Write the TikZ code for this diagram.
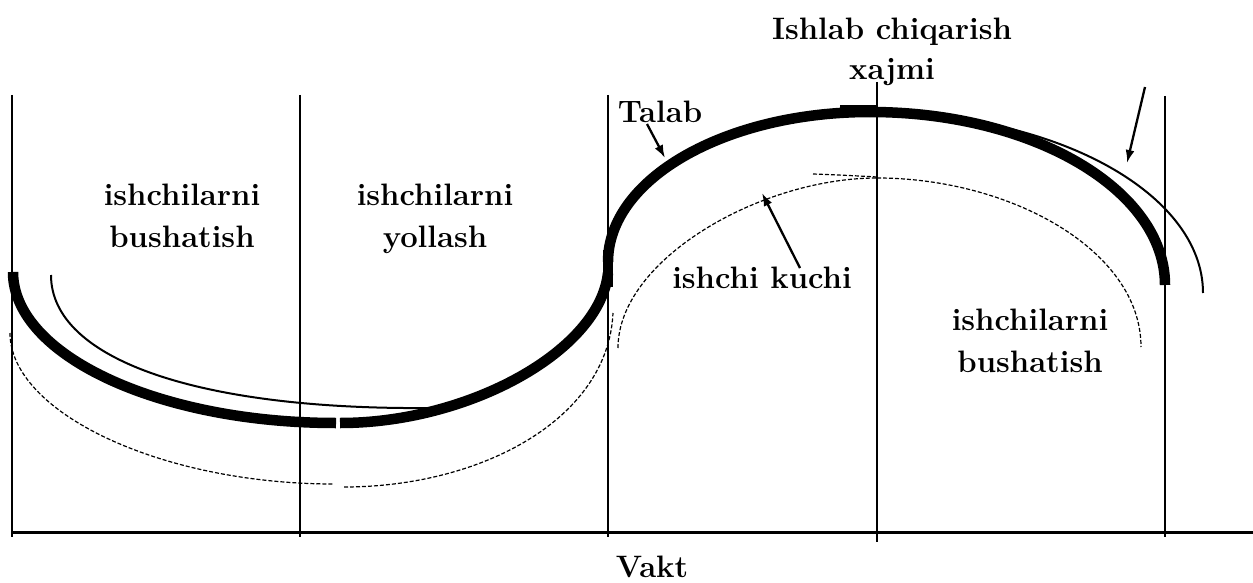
\documentclass[tikz,border=0pt]{standalone}
\usetikzlibrary{arrows.meta}
\begin{document}
\begin{tikzpicture}[x=1pt,y=-1pt,
  vline/.style={line width=2.4pt},
  axisline/.style={line width=3pt},
  talab/.style={line width=10.5pt},
  thinc/.style={line width=2pt},
  dashc/.style={line width=1.2pt, dash pattern=on 4pt off 2pt},
  pointer/.style={line width=2.3pt, -{Latex[length=13pt,width=9pt]}},
  lab/.style={font=\fontsize{31}{42}\selectfont\bfseries, inner sep=0pt, anchor=base},
  labn/.style={font=\fontsize{31}{40}\selectfont\bfseries, inner sep=0pt, anchor=base}]
\useasboundingbox (0,0) rectangle (1253,583);

% vertical lines and axis
\coordinate (v1t) at (12,95);   \coordinate (v1b) at (12,537);
\coordinate (v2t) at (300,95);  \coordinate (v2b) at (300,537);
\coordinate (v3t) at (608,95);  \coordinate (v3b) at (608,537);
\coordinate (v4t) at (877,82);  \coordinate (v4b) at (877,542);
\coordinate (v5t) at (1165,96); \coordinate (v5b) at (1165,537);
\coordinate (ax0) at (12,532);  \coordinate (ax1) at (1253,532);
\draw[vline] (v1t) -- (v1b);
\draw[vline] (v2t) -- (v2b);
\draw[vline] (v3t) -- (v3b);
\draw[vline] (v4t) -- (v4b);
\draw[vline] (v5t) -- (v5b);
\draw[axisline] (ax0) -- (ax1);

% thick demand curve (Talab)
\draw[talab] (13,272) .. controls (13,355) and (158,423) .. (336,423);
\draw[talab] (340,423) .. controls (470,423) and (600,350) .. (608,273);
\draw[talab] (608,250) -- (608,287);
\draw[talab] (608,262) .. controls (608,179) and (725,112) .. (870,112);
\draw[talab] (870,112) .. controls (1033,112) and (1165,190) .. (1165,285);
\draw[talab] (840,110) -- (877,110);

% thin solid curves
\draw[thinc] (51,275) .. controls (51,360) and (200,410) .. (430,408);
\draw[thinc] (877,113) .. controls (1057,113) and (1203,194) .. (1203,293);

% dashed curves
\draw[dashc] (10,333) .. controls (10,412) and (160,484) .. (334,484);
\draw[dashc] (344,487) .. controls (480,487) and (608,420) .. (613,313);
\draw[dashc] (618,348) .. controls (618,260) and (760,178) .. (877,178);
\draw[dashc] (877,178) .. controls (1010,178) and (1141,250) .. (1141,347);
\draw[dashc] (813,174) .. controls (840,175) and (860,176) .. (877,177);

% labels
\node[lab] (l1) at (182,205) {\begin{tabular}[t]{@{}c@{}}ishchilarni\\bushatish\end{tabular}};
\node[lab] (l2) at (435,205) {\begin{tabular}[t]{@{}c@{}}ishchilarni\\yollash\end{tabular}};
\node[lab] (l3) at (1030,330) {\begin{tabular}[t]{@{}c@{}}ishchilarni\\bushatish\end{tabular}};
\node[lab] (kuchi) at (762,288) {ishchi kuchi};
\node[lab] (talabl) at (660,123) {Talab};
\node[labn] (hajm) at (892,40) {\begin{tabular}[t]{@{}c@{}}Ishlab chiqarish\\xajmi\end{tabular}};
\node[lab] (vakt) at (652,577) {Vakt};

% arrows
\coordinate (a1s) at (647,124); \coordinate (a1e) at (665,158);
\coordinate (a2s) at (800,268); \coordinate (a2e) at (762,193);
\coordinate (a3s) at (1145,87); \coordinate (a3e) at (1127,163);
\draw[pointer] (a1s) -- (a1e);
\draw[pointer] (a2s) -- (a2e);
\draw[pointer] (a3s) -- (a3e);
\end{tikzpicture}
\end{document}
